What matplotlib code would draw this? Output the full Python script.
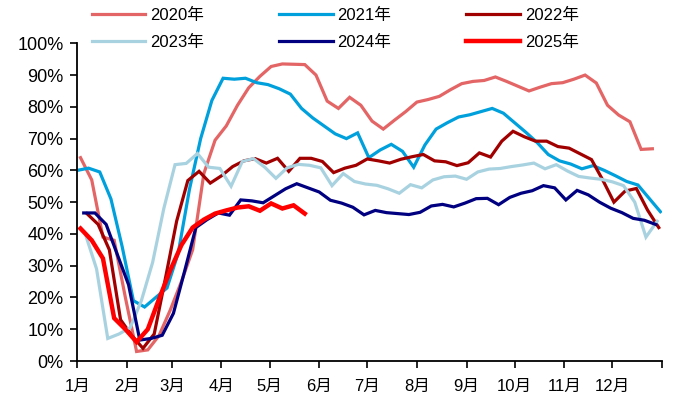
import numpy as np
import pandas as pd
from matplotlib import pyplot as plt

plt.rcParams['font.family'] = ['Liberation Sans', 'Noto Sans CJK SC']

# weekly readings (Friday), percent
first_friday = {"2020": "2020-01-03", "2021": "2021-01-01", "2022": "2022-01-07",
                "2023": "2023-01-06", "2024": "2024-01-05", "2025": "2025-01-03"}

y2020 = [64, 57, 39, 38, 20, 3, 3.5, 8, 16, 25, 35, 59, 69.5, 74, 80.5, 86, 89.6, 92.7,
         93.5, 93.4, 93.3, 90, 81.8, 79.5, 83, 80.5, 75.5, 73, 75.8, 78.5, 81.5, 82.3,
         83.3, 85.4, 87.3, 88, 88.3, 89.4, 88, 86.5, 85, 86.2, 87.3, 87.6, 88.7, 90,
         87.5, 80.5, 77.4, 75.3, 66.6, 66.8]
y2021 = [60, 60.7, 59.5, 51, 36, 19, 17, 20, 23, 34, 54, 70, 82, 89, 88.7, 89, 87.6,
         87, 85.7, 84, 79.5, 76.5, 74, 71.5, 70, 71.8, 64, 66.4, 68.2, 66, 61, 68, 73,
         75, 76.8, 77.5, 78.5, 79.5, 78, 75, 72, 68.8, 65, 63, 62, 60.5, 61.5, 60,
         58.3, 56.5, 55.4, 51.2, 47]
y2022 = [46.4, 43, 35, 13, 8, 4, 8.5, 26, 44, 56.8, 59.7, 56, 58.3, 61.2, 63, 63.7,
         62.3, 63.8, 59.7, 63.8, 63.8, 62.8, 59.3, 60.7, 61.6, 63.6, 63, 62.3, 63.5,
         64.3, 65, 63, 62.7, 61.5, 62.4, 65.5, 64.2, 69.2, 72.3, 70.6, 69.2, 69.2,
         67.5, 67, 65.2, 63.4, 57, 50, 53.5, 54.3, 47.5, 42]
y2023 = [40, 29, 7.1, 8.5, 10.5, 19, 31, 48, 61.8, 62.2, 65.3, 61, 60.6, 55, 62.8,
         63.7, 61, 57.5, 60.8, 61.9, 61.6, 60.8, 55.2, 59, 56.5, 55.7, 55.3, 54.2,
         52.8, 55.5, 54.5, 57, 58, 58.2, 57.2, 59.5, 60.4, 60.6, 61.2, 61.7, 62.3,
         60.5, 61.8, 59.8, 58.1, 57.6, 57.2, 56.4, 55.2, 50, 39, 44]
y2024 = [46.6, 46.6, 43, 33.5, 24, 6.6, 7.1, 8.1, 15, 28.3, 42, 44.5, 46.6, 45.9,
         50.7, 50.4, 49.8, 52, 54.2, 55.8, 54.5, 53.2, 50.6, 49.7, 48.4, 46, 47.4,
         46.7, 46.4, 46.1, 46.8, 48.8, 49.3, 48.5, 49.7, 51.1, 51.2, 49.2, 51.5, 52.8,
         53.6, 55.2, 54.5, 50.7, 53.7, 52.3, 50, 48.1, 46.7, 44.9, 44.3, 43]
y2025 = [41.7, 38, 32.3, 13.5, 10, 6, 10, 19.5, 28.5, 36.5, 42, 44.5, 46.4, 47.4,
         48.3, 48.7, 47.3, 49.6, 48, 49, 46.4]

series = {"2020": y2020, "2021": y2021, "2022": y2022,
          "2023": y2023, "2024": y2024, "2025": y2025}
colors = {"2020": "#E46565", "2021": "#00A0DC", "2022": "#A00000",
          "2023": "#A9D2E0", "2024": "#000080", "2025": "#FF0000"}
widths = {"2020": 2.3, "2021": 2.3, "2022": 2.3, "2023": 2.3, "2024": 2.3, "2025": 3.2}

month_start = [0, 31, 59, 90, 120, 151, 181, 212, 243, 273, 304, 334, 365]
month_labels = ["1月", "2月", "3月", "4月", "5月", "6月", "7月", "8月", "9月",
                "10月", "11月", "12月", ""]
y_ticks = [0, 10, 20, 30, 40, 50, 60, 70, 80, 90, 100]


def day_positions(year, n):
    dates = pd.date_range(first_friday[year], periods=n, freq="7D")
    return np.array(dates.dayofyear) - 1


fig = plt.figure(figsize=(6.77, 3.99), dpi=100)
ax = fig.add_axes([0.1142, 0.0952, 0.8636, 0.7963])

lines = {}
for year, vals in series.items():
    x = day_positions(year, len(vals))
    lines[year], = ax.plot(x, vals, color=colors[year], lw=widths[year],
                           solid_joinstyle="miter", label=year + "年")

ax.set_xlim(0, 365)
ax.set_ylim(0, 100)
ax.set_xticks(month_start)
ax.set_xticklabels(month_labels)
ax.set_yticks(y_ticks)
ax.set_yticklabels([str(v) + "%" for v in y_ticks])

for side in ["top", "right"]:
    ax.spines[side].set_visible(False)
for side in ["left", "bottom"]:
    ax.spines[side].set_linewidth(1.3)
ax.tick_params(axis="both", direction="out", length=5, width=1.2, colors="black")
ax.tick_params(axis="x", pad=8, labelsize=12)
ax.tick_params(axis="y", pad=5, labelsize=13)

# legend rows: 2020/2021/2022 then 2023/2024/2025
order = ["2020", "2023", "2021", "2024", "2022", "2025"]
fig.legend([lines[k] for k in order], [k + "年" for k in order], ncol=3,
           loc="upper left", bbox_to_anchor=(92 / 677, 1 - 8 / 399),
           frameon=False, fontsize=12, handlelength=3.2, handletextpad=0.3,
           columnspacing=4.5, labelspacing=0.7, borderpad=0, borderaxespad=0)

fig.savefig("out.png", dpi=100)
